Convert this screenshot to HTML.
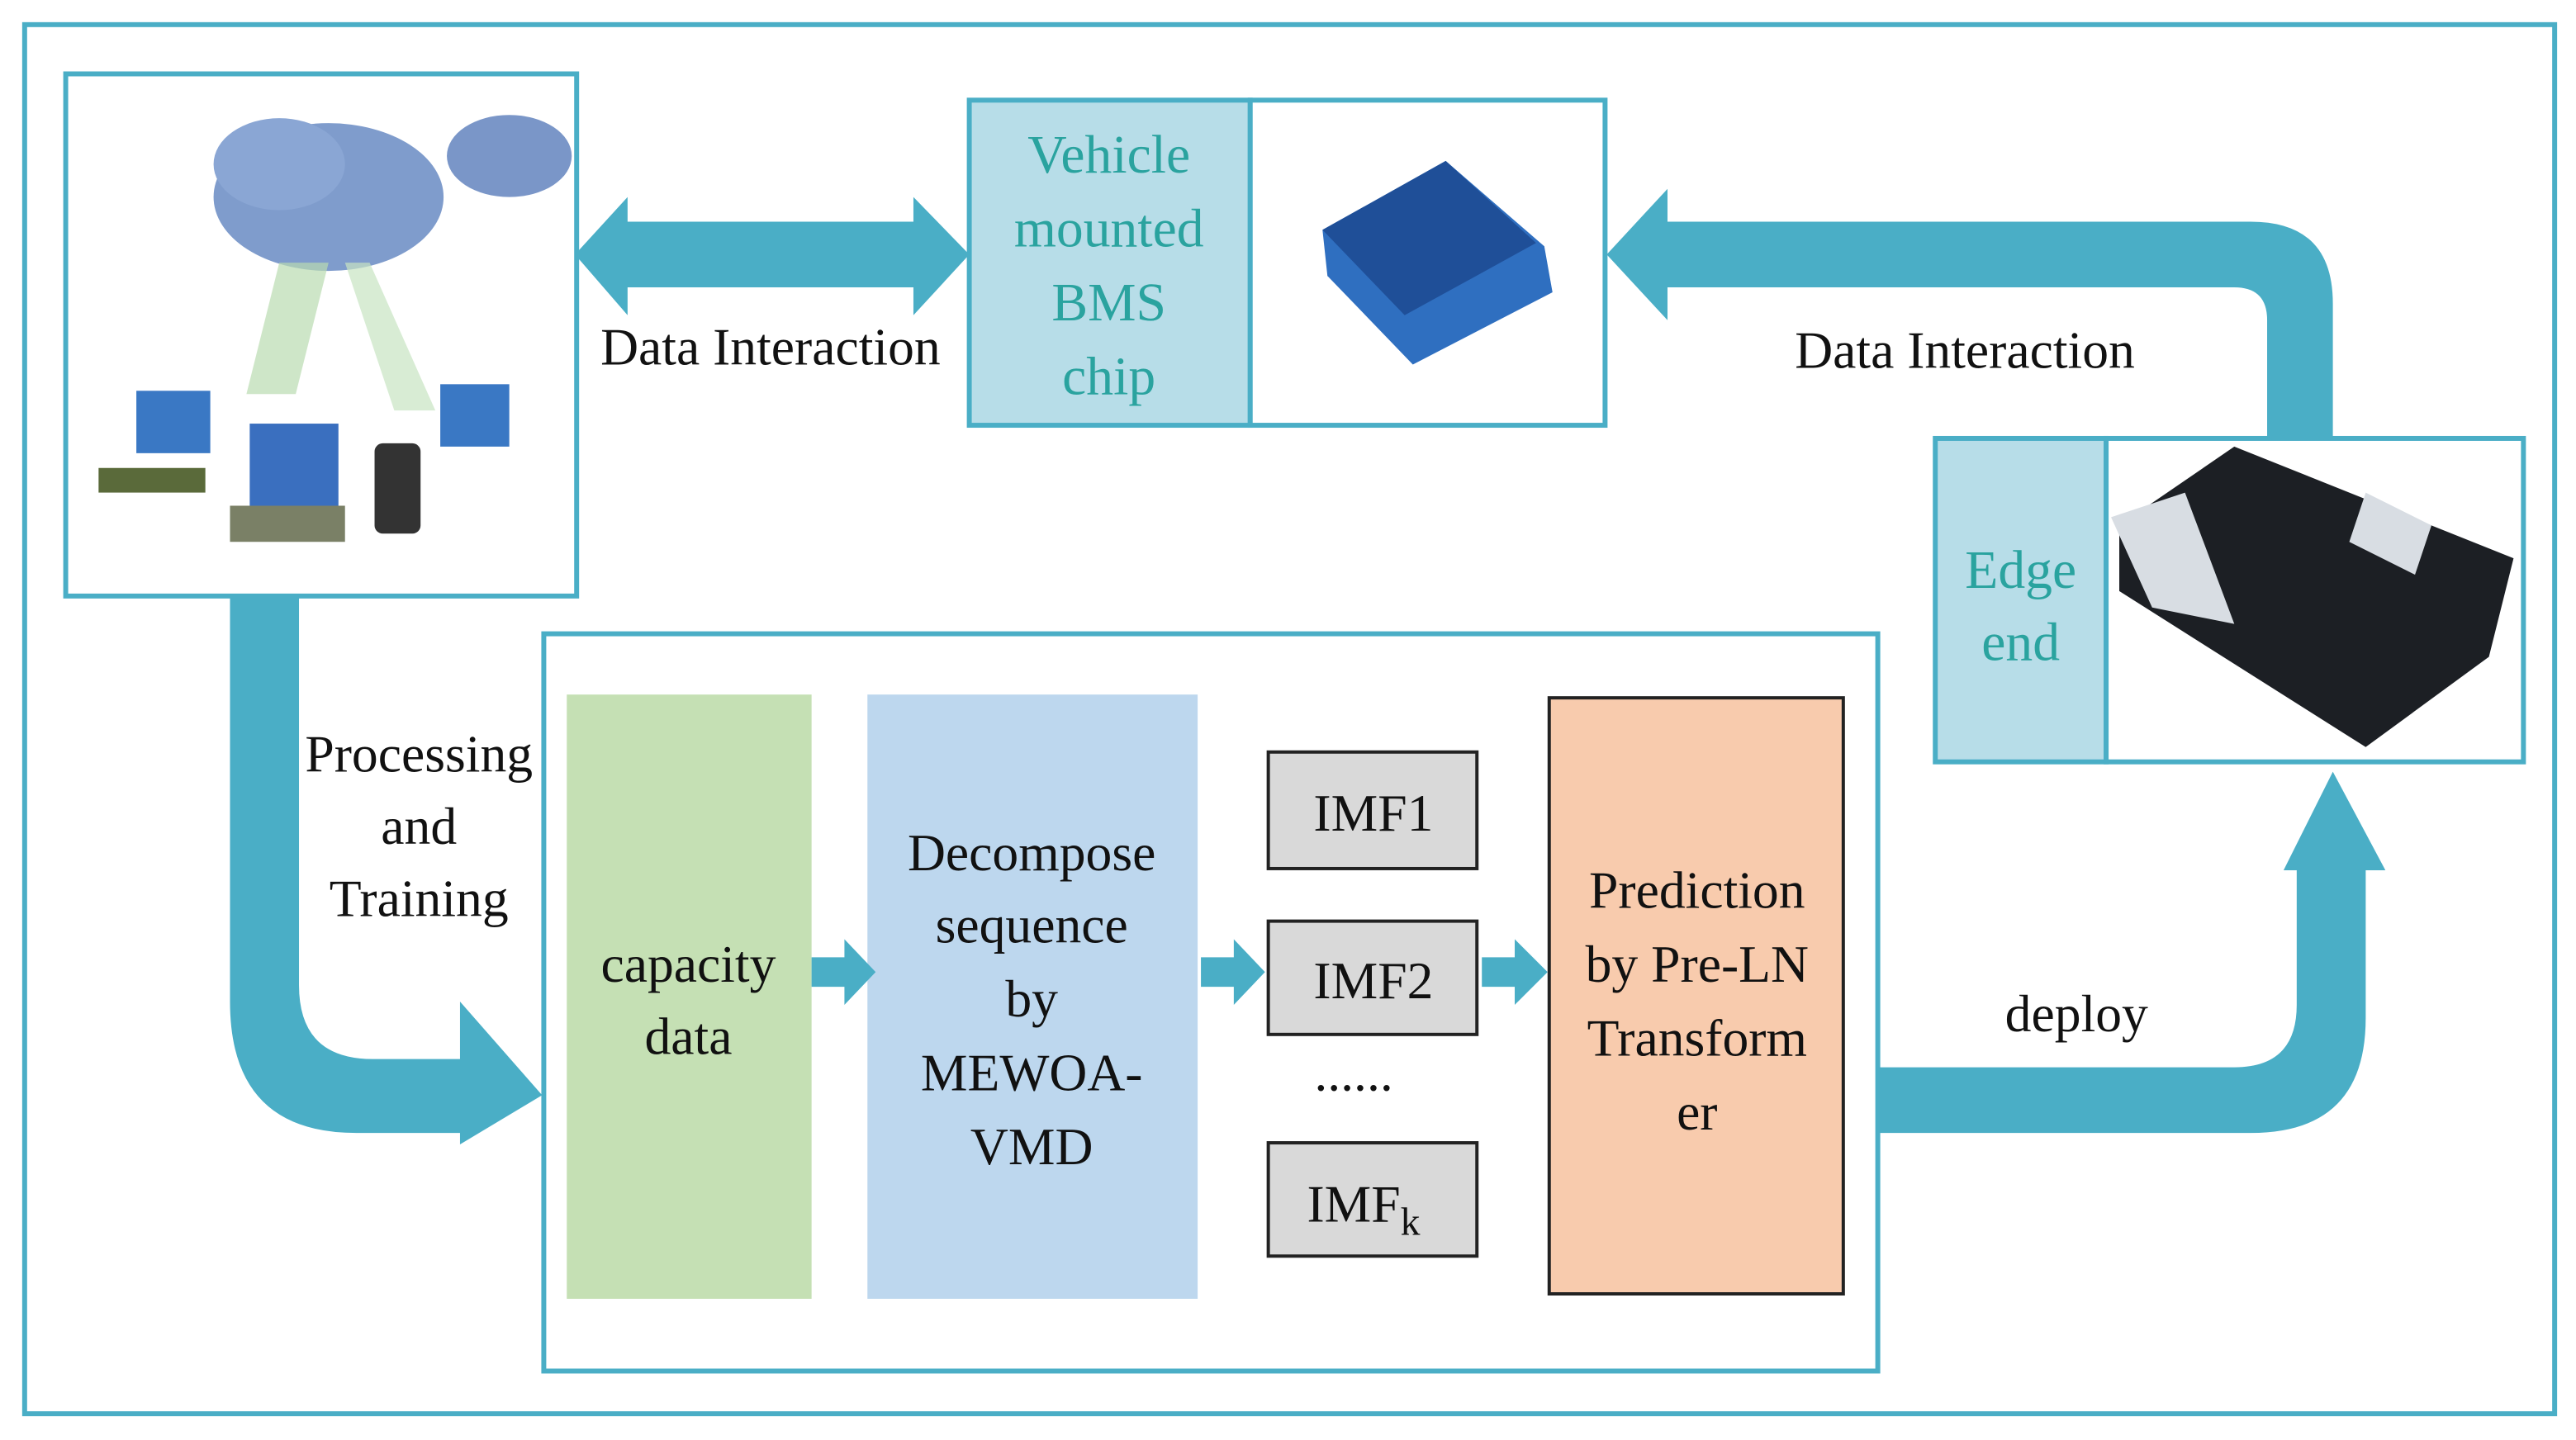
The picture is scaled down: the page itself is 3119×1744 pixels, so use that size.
<!DOCTYPE html>
<html><head><meta charset="utf-8"><style>
html,body{margin:0;padding:0;background:#fff;width:3119px;height:1744px;overflow:hidden}
svg{display:block}
text{font-family:"Liberation Serif",serif}
</style></head><body>
<svg width="3119" height="1744" viewBox="0 0 1568 877" preserveAspectRatio="none" xmlns="http://www.w3.org/2000/svg">
<rect x="0" y="0" width="1568" height="877" fill="#fff"/>
<rect x="15" y="15" width="1540" height="846" fill="none" stroke="#4aaec6" stroke-width="3"/>

<!-- left down arrow -->
<path d="M140 363 H182 V600 Q182 645 227 645 H280 V610 L330 667 L280 697 V690 H217 Q140 690 140 610 Z" fill="#4aaec6"/>
<!-- double arrow -->
<path d="M350 155 L382 120 V135 H556 V120 L590 155 L556 192 V175 H382 V192 Z" fill="#4aaec6"/>
<!-- right top arrow -->
<path d="M1380 267 V195 Q1380 175 1360 175 H1015 V195 L978 155 L1015 115 V135 H1370 Q1420 135 1420 185 V267 Z" fill="#4aaec6"/>
<!-- deploy arrow -->
<path d="M1143 650 H1360 Q1398 650 1398 612 V530 H1390 L1420 470 L1452 530 H1440 V620 Q1440 690 1370 690 H1143 Z" fill="#4aaec6"/>

<!-- cloud box -->
<rect x="40" y="45" width="311" height="318" fill="#fff" stroke="#4aaec6" stroke-width="3"/>
<g>
<ellipse cx="200" cy="120" rx="70" ry="45" fill="#7f9ccc"/>
<ellipse cx="170" cy="100" rx="40" ry="28" fill="#8aa6d4"/>
<ellipse cx="310" cy="95" rx="38" ry="25" fill="#7a96c8"/>
<path d="M170 160 L150 240 L180 240 L200 160 Z" fill="#b9dcb0" opacity="0.7"/>
<path d="M210 160 L240 250 L265 250 L225 160 Z" fill="#c7e4c2" opacity="0.7"/>
<rect x="83" y="238" width="45" height="38" fill="#3a78c4"/>
<rect x="60" y="285" width="65" height="15" fill="#5a6a3a"/>
<rect x="152" y="258" width="54" height="50" fill="#3a6fbf"/>
<rect x="140" y="308" width="70" height="22" fill="#7a8066"/>
<rect x="228" y="270" width="28" height="55" rx="5" fill="#333"/>
<rect x="268" y="234" width="42" height="38" fill="#3a78c4"/>
</g>

<!-- chip -->
<rect x="590" y="61" width="171" height="198" fill="#b7dde8" stroke="#4aaec6" stroke-width="3"/>
<rect x="761" y="61" width="216" height="198" fill="#fff" stroke="#4aaec6" stroke-width="3"/>
<path d="M805 140 L880 98 L940 150 L945 178 L860 222 L808 168 Z" fill="#2f6fc0"/>
<path d="M805 140 L880 98 L935 148 L855 192 Z" fill="#1f4f98"/>
<g fill="#2aa39f" font-size="33" text-anchor="middle">
<text x="675" y="105">Vehicle</text>
<text x="675" y="150">mounted</text>
<text x="675" y="195">BMS</text>
<text x="675" y="240">chip</text>
</g>
<text x="469" y="222" font-size="32" text-anchor="middle" fill="#111">Data Interaction</text>
<text x="1196" y="224" font-size="32" text-anchor="middle" fill="#111">Data Interaction</text>

<!-- edge -->
<rect x="1178" y="267" width="104" height="197" fill="#b7dde8" stroke="#4aaec6" stroke-width="3"/>
<rect x="1282" y="267" width="254" height="197" fill="#fff" stroke="#4aaec6" stroke-width="3"/>
<path d="M1290 320 L1360 272 L1530 340 L1515 400 L1440 455 L1290 360 Z" fill="#1c1f24"/>
<path d="M1285 315 L1330 300 L1360 380 L1310 370 Z" fill="#d8dde3"/>
<path d="M1440 300 L1480 320 L1470 350 L1430 330 Z" fill="#d8dde3"/>
<g fill="#2aa39f" font-size="33" text-anchor="middle">
<text x="1230" y="358">Edge</text>
<text x="1230" y="402">end</text>
</g>

<!-- main box -->
<rect x="331" y="386" width="812" height="449" fill="#fff" stroke="#4aaec6" stroke-width="3"/>
<rect x="345" y="423" width="149" height="368" fill="#c5e0b4"/>
<rect x="528" y="423" width="201" height="368" fill="#bdd7ee"/>
<rect x="772" y="458" width="127" height="71" fill="#d9d9d9" stroke="#222" stroke-width="2"/>
<rect x="772" y="561" width="127" height="69" fill="#d9d9d9" stroke="#222" stroke-width="2"/>
<rect x="772" y="696" width="127" height="69" fill="#d9d9d9" stroke="#222" stroke-width="2"/>
<rect x="943" y="425" width="179" height="363" fill="#f8cbad" stroke="#222" stroke-width="2"/>
<!-- small arrows -->
<path d="M494 583 H514 V572 L533 592 L514 612 V601 H494 Z" fill="#4aaec6"/>
<path d="M731 583 H751 V572 L770 592 L751 612 V601 H731 Z" fill="#4aaec6"/>
<path d="M902 583 H922 V572 L942 592 L922 612 V601 H902 Z" fill="#4aaec6"/>

<g fill="#111" font-size="32" text-anchor="middle">
<text x="255" y="470">Processing</text>
<text x="255" y="514">and</text>
<text x="255" y="558">Training</text>
<text x="419" y="598">capacity</text>
<text x="419" y="642">data</text>
<text x="628" y="530">Decompose</text>
<text x="628" y="574">sequence</text>
<text x="628" y="619">by</text>
<text x="628" y="664">MEWOA-</text>
<text x="628" y="709">VMD</text>
<text x="836" y="506">IMF1</text>
<text x="836" y="608">IMF2</text>
<text x="830" y="744">IMF<tspan font-size="24" dy="8">k</tspan></text>
<text x="824" y="664">......</text>
<text x="1033" y="553">Prediction</text>
<text x="1033" y="598">by Pre-LN</text>
<text x="1033" y="643">Transform</text>
<text x="1033" y="688">er</text>
<text x="1264" y="628">deploy</text>
</g>
</svg>
</body></html>
